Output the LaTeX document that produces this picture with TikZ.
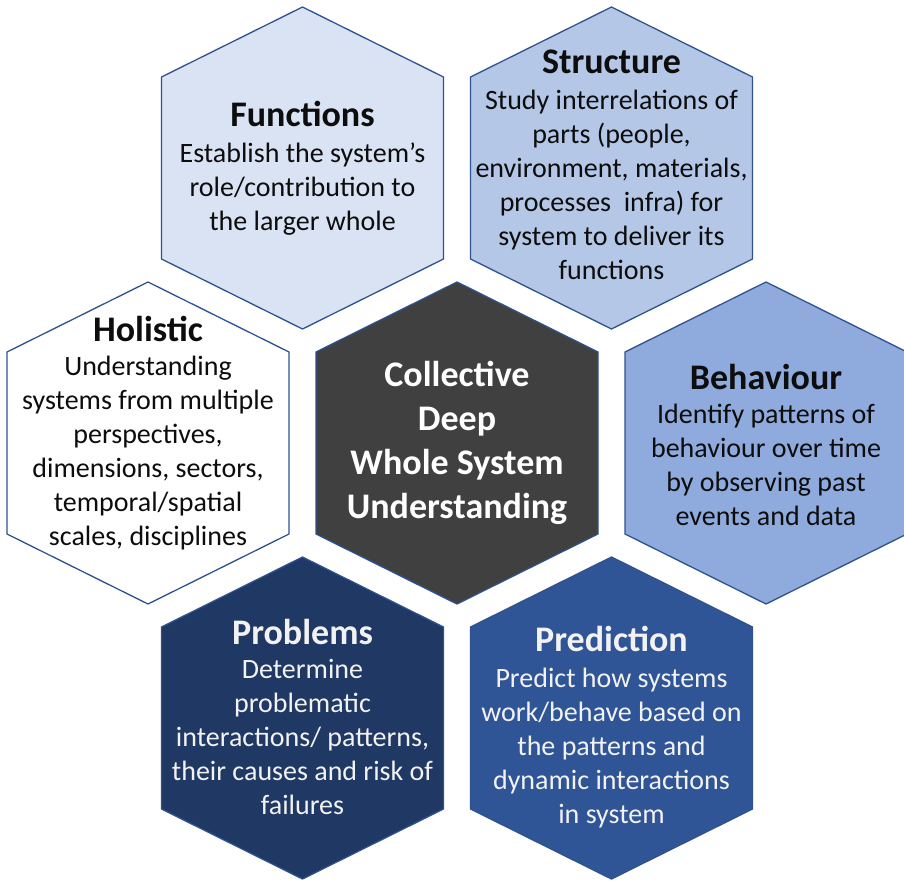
\documentclass[tikz,border=0pt]{standalone}
\usepackage{fontspec}
\setmainfont{Carlito}
\usepackage{xcolor}
\usepackage{tikz}
\usetikzlibrary{calc,positioning}

\definecolor{hexline}{HTML}{2F528F}
\definecolor{hexcore}{HTML}{404040}
\definecolor{hexpale}{HTML}{DAE3F3}
\definecolor{hexlight}{HTML}{B4C7E7}
\definecolor{hexmid}{HTML}{8FAADC}
\definecolor{hexdeep}{HTML}{2F5597}
\definecolor{hexnavy}{HTML}{203864}
\definecolor{inkdark}{HTML}{0D0D0D}
\definecolor{inklight}{HTML}{F2F2F2}

\tikzset{
    hexcell/.style={draw=hexline, line width=1.3pt, line join=miter},
    celltext/.style={align=center, inner sep=0pt,
        font=\fontsize{28}{34}\selectfont}
}

\begin{document}
\begin{tikzpicture}[x=1pt, y=-1pt]
        \useasboundingbox (0,0) rectangle (904,884);
        % one hexagon round a named centre
        \newcommand{\hexat}[2]{
            \draw[hexcell, fill=#2] ($(#1)+(0,-161)$) -- ++(141,70) -- ++(0,182)
                -- ++(-141,70) -- ++(-141,-70) -- ++(0,-182) -- cycle;
        }
        \newcommand{\dx}{154.5}
        \newcommand{\dy}{275}

        \coordinate (core) at (457,443);
        \coordinate (func) at ($(core) + (-\dx, -\dy)$);
        \coordinate (struct) at ($(core) + (\dx, -\dy)$);
        \coordinate (holist) at ($(core) + (-2*\dx, 0)$);
        \coordinate (behav) at ($(core) + (2*\dx, 0)$);
        \coordinate (probl) at ($(core) + (-\dx, \dy)$);
        \coordinate (predict) at ($(core) + (\dx, \dy)$);

        \hexat{core}{hexcore}
        \hexat{func}{hexpale}
        \hexat{struct}{hexlight}
        \hexat{holist}{white}
        \hexat{behav}{hexmid}
        \hexat{probl}{hexnavy}
        \hexat{predict}{hexdeep}

        \node[celltext, text=white, font=\fontsize{36}{44}\selectfont\bfseries]
            (coreT) at (core) {Collective\\Deep\\Whole System\\Understanding};
        \node[celltext, text=inkdark] (funcT) at ($(func)+(0,0)$)
            {\textbf{\fontsize{36}{40}\selectfont Functions}\\[2pt]
             Establish the system’s\\role/contribution to\\the larger whole};
        \node[celltext, text=inkdark] (structT) at ($(struct)+(0,-3)$)
            {\textbf{\fontsize{36}{40}\selectfont Structure}\\[2pt]
             Study interrelations of\\parts (people,\\environment, materials,\\
             processes\ \ infra) for\\system to deliver its\\functions};
        \node[celltext, text=inkdark] (holistT) at ($(holist)+(0,-10)$)
            {\textbf{\fontsize{36}{40}\selectfont Holistic}\\[0pt]
             Understanding\\systems from multiple\\perspectives,\\
             dimensions, sectors,\\temporal/spatial\\scales, disciplines};
        \node[celltext, text=inkdark] (behavT) at ($(behav)+(0,2)$)
            {\textbf{\fontsize{36}{40}\selectfont Behaviour}\\[0pt]
             Identify patterns of\\behaviour over time\\by observing past\\events and data};
        \node[celltext, text=inklight] (problT) at ($(probl)+(0,-1)$)
            {\textbf{\fontsize{36}{40}\selectfont Problems}\\[0pt]
             Determine\\problematic\\interactions/ patterns,\\
             their causes and risk of\\failures};
        \node[celltext, text=inklight] (predictT) at ($(predict)+(0,9)$)
            {\textbf{\fontsize{36}{40}\selectfont Prediction}\\[2pt]
             Predict how systems\\work/behave based on\\the patterns and\\
             dynamic interactions\\in system};
    \end{tikzpicture}
\end{document}
